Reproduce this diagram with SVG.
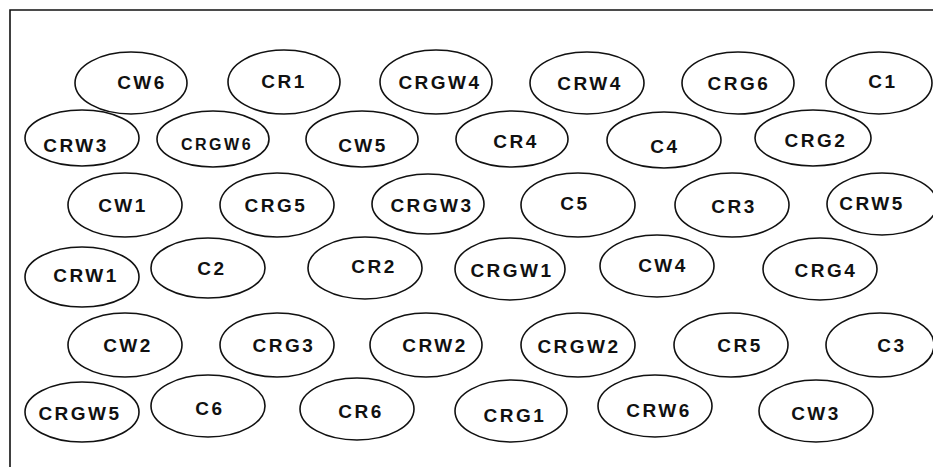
<svg xmlns="http://www.w3.org/2000/svg" width="933" height="467" viewBox="0 0 933 467">
<style>
.n ellipse{fill:none;stroke:#111;stroke-width:1.6}
.n text{font-family:"Liberation Sans",Arial,sans-serif;font-weight:bold;font-size:19px;letter-spacing:2.5px;fill:#111;text-anchor:middle}
.n .s text{font-size:16px}
</style>
<rect width="933" height="467" fill="#fff"/>
<path d="M10,467 L10,10 L933,10" fill="none" stroke="#111" stroke-width="1.6"/>
<g id="connectors"/>
<g class="n">
<g id="CW6"><ellipse cx="131" cy="83" rx="56" ry="31"/><text x="142" y="89">CW6</text></g>
<g id="CR1"><ellipse cx="284" cy="82" rx="56" ry="32"/><text x="284" y="88">CR1</text></g>
<g id="CRGW4"><ellipse cx="436" cy="82" rx="56" ry="32"/><text x="440" y="89">CRGW4</text></g>
<g id="CRW4"><ellipse cx="587" cy="83" rx="57" ry="31"/><text x="590" y="90">CRW4</text></g>
<g id="CRG6"><ellipse cx="738" cy="83" rx="56" ry="31"/><text x="739" y="90">CRG6</text></g>
<g id="C1"><ellipse cx="879" cy="83" rx="53" ry="31"/><text x="883" y="88">C1</text></g>

<g id="CRW3"><ellipse cx="82" cy="138" rx="57" ry="28"/><text x="76" y="152">CRW3</text></g>
<g id="CRGW6" class="s"><ellipse cx="213" cy="139" rx="56" ry="28"/><text x="217" y="150">CRGW6</text></g>
<g id="CW5"><ellipse cx="362" cy="139" rx="56" ry="28"/><text x="363" y="152">CW5</text></g>
<g id="CR4"><ellipse cx="512" cy="139" rx="56" ry="28"/><text x="516" y="148">CR4</text></g>
<g id="C4"><ellipse cx="664" cy="140" rx="57" ry="28"/><text x="665" y="153">C4</text></g>
<g id="CRG2"><ellipse cx="813" cy="138" rx="58" ry="28"/><text x="816" y="147">CRG2</text></g>

<g id="CW1"><ellipse cx="125" cy="205" rx="57" ry="32"/><text x="123" y="212">CW1</text></g>
<g id="CRG5"><ellipse cx="277" cy="205" rx="57" ry="32"/><text x="276" y="212">CRG5</text></g>
<g id="CRGW3"><ellipse cx="428" cy="204" rx="56" ry="30"/><text x="432" y="212">CRGW3</text></g>
<g id="C5"><ellipse cx="578" cy="205" rx="57" ry="32"/><text x="575" y="210">C5</text></g>
<g id="CR3"><ellipse cx="732" cy="205" rx="57" ry="32"/><text x="734" y="213">CR3</text></g>
<g id="CRW5"><ellipse cx="882" cy="204" rx="55" ry="31"/><text x="872" y="210">CRW5</text></g>

<g id="CRW1"><ellipse cx="82" cy="277" rx="57" ry="30"/><text x="86" y="282">CRW1</text></g>
<g id="C2"><ellipse cx="208" cy="268" rx="57" ry="30"/><text x="212" y="275">C2</text></g>
<g id="CR2"><ellipse cx="365" cy="268" rx="57" ry="31"/><text x="374" y="273">CR2</text></g>
<g id="CRGW1"><ellipse cx="510" cy="269" rx="55" ry="31"/><text x="512" y="277">CRGW1</text></g>
<g id="CW4"><ellipse cx="657" cy="266" rx="57" ry="31"/><text x="663" y="272">CW4</text></g>
<g id="CRG4"><ellipse cx="820" cy="269" rx="57" ry="31"/><text x="826" y="277">CRG4</text></g>

<g id="CW2"><ellipse cx="125" cy="345" rx="57" ry="32"/><text x="128" y="352">CW2</text></g>
<g id="CRG3"><ellipse cx="277" cy="345" rx="57" ry="32"/><text x="284" y="352">CRG3</text></g>
<g id="CRW2"><ellipse cx="426" cy="345" rx="56" ry="32"/><text x="435" y="352">CRW2</text></g>
<g id="CRGW2"><ellipse cx="578" cy="345" rx="57" ry="32"/><text x="579" y="353">CRGW2</text></g>
<g id="CR5"><ellipse cx="731" cy="345" rx="57" ry="32"/><text x="740" y="352">CR5</text></g>
<g id="C3"><ellipse cx="880" cy="345" rx="54" ry="32"/><text x="892" y="352">C3</text></g>

<g id="CRGW5"><ellipse cx="82" cy="412" rx="57" ry="30"/><text x="80" y="420">CRGW5</text></g>
<g id="C6"><ellipse cx="208" cy="406" rx="57" ry="31"/><text x="210" y="415">C6</text></g>
<g id="CR6"><ellipse cx="357" cy="409" rx="57" ry="31"/><text x="361" y="418">CR6</text></g>
<g id="CRG1"><ellipse cx="511" cy="411" rx="56" ry="31"/><text x="515" y="422">CRG1</text></g>
<g id="CRW6"><ellipse cx="655" cy="406" rx="57" ry="31"/><text x="659" y="417">CRW6</text></g>
<g id="CW3"><ellipse cx="816" cy="411" rx="57" ry="31"/><text x="816" y="420">CW3</text></g>
</g>
</svg>
